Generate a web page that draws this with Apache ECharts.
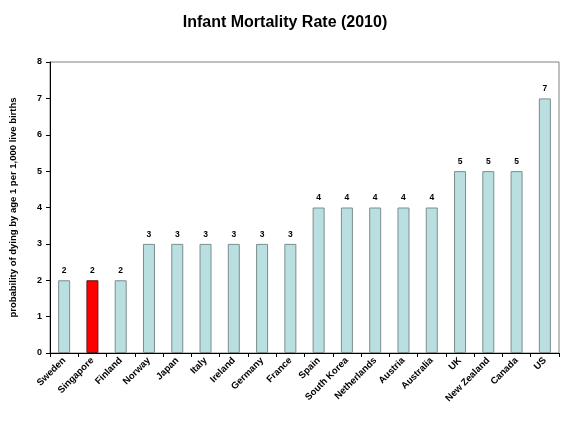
<!DOCTYPE html>
<html>
<head>
<meta charset="utf-8">
<script src="https://cdn.jsdelivr.net/npm/echarts@6/dist/echarts.min.js"></script>
<style>
  html, body { margin: 0; padding: 0; background: #fff; }
  #chart { width: 578px; height: 429px; }
</style>
</head>
<body>
<div id="chart"></div>
<script>
const countries = ['Sweden', 'Singapore', 'Finland', 'Norway', 'Japan', 'Italy', 'Ireland', 'Germany',
  'France', 'Spain', 'South Korea', 'Netherlands', 'Austria', 'Australia', 'UK', 'New Zealand', 'Canada', 'US'];
const rates = [2, 2, 2, 3, 3, 3, 3, 3, 3, 4, 4, 4, 4, 4, 5, 5, 5, 7];
const highlight = 'Singapore';

const chart = echarts.init(document.getElementById('chart'));

const font = 'Liberation Sans, Arial, sans-serif';

const option = {
  animation: false,
  title: {
    text: 'Infant Mortality Rate (2010)',
    left: 280,
    textAlign: 'center',
    top: 10,
    textStyle: { fontFamily: font, fontSize: 16, fontWeight: 'bold', color: '#000' },
  },
  grid: {
    left: 50,
    right: 19,
    top: 62,
    bottom: 76,
    show: true,
    borderColor: '#808080',
    borderWidth: 1,
  },
  xAxis: {
    type: 'category',
    data: countries,
    axisLine: { lineStyle: { color: '#000' } },
    axisTick: { show: true, alignWithLabel: false, length: 4, lineStyle: { color: '#000' } },
    axisLabel: {
      rotate: 45,
      interval: 0,
      fontFamily: font,
      fontSize: 9.5,
      fontWeight: 'bold',
      color: '#000',
      margin: 6,
    },
  },
  yAxis: {
    type: 'value',
    min: 0,
    max: 8,
    interval: 1,
    name: 'probability of dying by age 1 per 1,000 live births',
    nameLocation: 'middle',
    nameGap: 32,
    nameTextStyle: { fontFamily: font, fontSize: 9.5, fontWeight: 'bold', color: '#000' },
    axisLine: { show: true, lineStyle: { color: '#000' } },
    axisTick: { show: true, length: 4, lineStyle: { color: '#000' } },
    axisLabel: { fontFamily: font, fontSize: 9, fontWeight: 'bold', color: '#000', margin: 8 },
    splitLine: { show: false },
  },
  series: [
    {
      type: 'bar',
      barWidth: 12,
      data: rates.map((v, i) => ({
        value: v,
        itemStyle: countries[i] === highlight
          ? { color: '#FF0000', borderColor: '#5a1a1a', borderWidth: 1 }
          : { color: '#B9DFE0', borderColor: '#7d8d8e', borderWidth: 1 },
      })),
      label: {
        show: true,
        position: 'top',
        distance: 5,
        fontFamily: font,
        fontSize: 8.5,
        fontWeight: 'bold',
        color: '#000',
      },
    },
  ],
};

chart.setOption(option);
</script>
</body>
</html>
